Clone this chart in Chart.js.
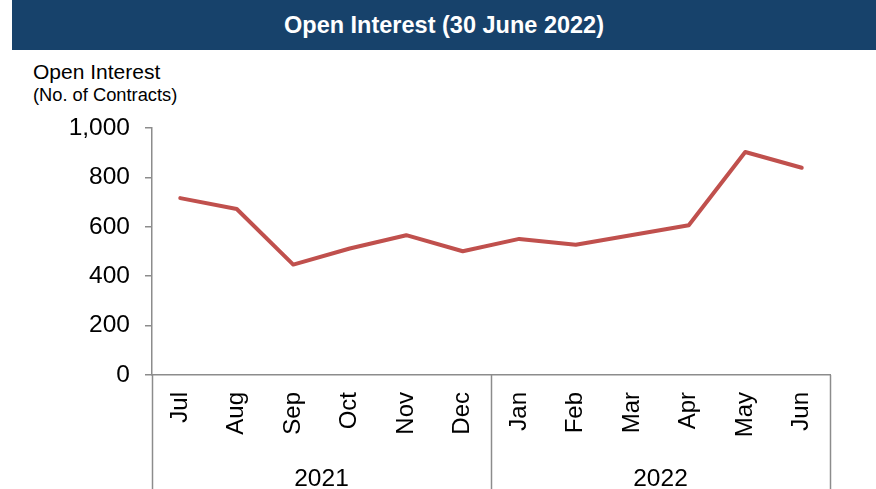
<!DOCTYPE html>
<html>
<head>
<meta charset="utf-8">
<script src="https://cdn.jsdelivr.net/npm/chart.js@4"></script>
<style>
  html, body { margin: 0; padding: 0; background: #fff; }
  body { width: 876px; height: 489px; position: relative; overflow: hidden; font-family: "Liberation Sans", Arial, sans-serif; }
  .title-bar { position: absolute; left: 12px; top: 0; width: 864px; height: 50px; background: #17426b; color: #fff; font-weight: bold; font-size: 23.5px; text-align: center; line-height: 50px; }
  .y-title { position: absolute; left: 33px; top: 61px; font-size: 21px; line-height: 21px; color: #000; white-space: nowrap; }
  .y-sub { position: absolute; left: 33px; top: 86px; font-size: 18.3px; line-height: 18px; color: #000; white-space: nowrap; }
  #wrap { position: absolute; left: 0; top: 0; width: 876px; height: 489px; }
</style>
</head>
<body>
<div class="title-bar">Open Interest (30 June 2022)</div>
<div class="y-title">Open Interest</div>
<div class="y-sub">(No. of Contracts)</div>
<div id="wrap"><canvas id="chart" width="876" height="489"></canvas></div>
<script>
// months shown on the axis and the year each block belongs to
const months = ['Jul', 'Aug', 'Sep', 'Oct', 'Nov', 'Dec', 'Jan', 'Feb', 'Mar', 'Apr', 'May', 'Jun'];
const years = ['2021', '2022'];
const monthsPerYear = [6, 6];
// open interest, no. of contracts
const openInterest = [716, 672, 447, 512, 566, 501, 551, 527, 567, 606, 903, 839];
const yTicks = [0, 200, 400, 600, 800, 1000];

const axisGrey = '#8c8c8c';

// draws the year row under the month labels with the separators
const yearRows = {
    id: 'yearRows',
    afterDraw(chart) {
        const ctx = chart.ctx;
        const x = chart.scales.x;
        const step = x.getPixelForValue(1) - x.getPixelForValue(0);
        const top = chart.chartArea.bottom;
        const bottom = chart.height;
        ctx.save();
        ctx.strokeStyle = axisGrey;
        ctx.lineWidth = 1.5;
        let start = 0;
        const edges = [x.getPixelForValue(0) - step / 2];
        years.forEach((year, i) => {
            const end = start + monthsPerYear[i];
            const left = x.getPixelForValue(start) - step / 2;
            const right = x.getPixelForValue(end - 1) + step / 2;
            edges.push(right);
            ctx.fillStyle = '#000';
            ctx.font = '24.5px "Liberation Sans", Arial, sans-serif';
            ctx.textAlign = 'center';
            ctx.textBaseline = 'alphabetic';
            ctx.fillText(year, (left + right) / 2, 486);
            start = end;
        });
        edges.forEach(px => {
            ctx.beginPath();
            ctx.moveTo(Math.round(px) + 0.5, top);
            ctx.lineTo(Math.round(px) + 0.5, bottom);
            ctx.stroke();
        });
        ctx.restore();
    }
};

new Chart(document.getElementById('chart'), {
    type: 'line',
    data: {
        labels: months,
        datasets: [{
            label: 'Open Interest',
            data: openInterest,
            borderColor: '#c0504d',
            borderWidth: 4,
            pointRadius: 0,
            tension: 0,
            borderCapStyle: 'round',
            borderJoinStyle: 'round'
        }]
    },
    options: {
        responsive: false,
        animation: false,
        layout: { padding: { top: 128, right: 46, left: 0, bottom: 0 } },
        plugins: {
            legend: { display: false },
            tooltip: { enabled: false }
        },
        scales: {
            x: {
                offset: true,
                grid: { display: false },
                border: { color: axisGrey, width: 1.5 },
                afterFit(scale) { scale.height = 114; },
                ticks: {
                    minRotation: 90,
                    maxRotation: 90,
                    autoSkip: false,
                    padding: 9,
                    color: '#000',
                    font: { family: '"Liberation Sans", Arial, sans-serif', size: 24 }
                }
            },
            y: {
                min: 0,
                max: 1000,
                afterBuildTicks(scale) { scale.ticks = yTicks.map(v => ({ value: v })); },
                afterFit(scale) { scale.width = 152; },
                grid: { drawOnChartArea: false, tickLength: 7, color: axisGrey, lineWidth: 1.5 },
                border: { color: axisGrey, width: 1.5 },
                ticks: {
                    padding: 15,
                    color: '#000',
                    font: { family: '"Liberation Sans", Arial, sans-serif', size: 24.5 },
                    callback: v => v.toLocaleString('en-US')
                }
            }
        }
    },
    plugins: [yearRows]
});
</script>
</body>
</html>
